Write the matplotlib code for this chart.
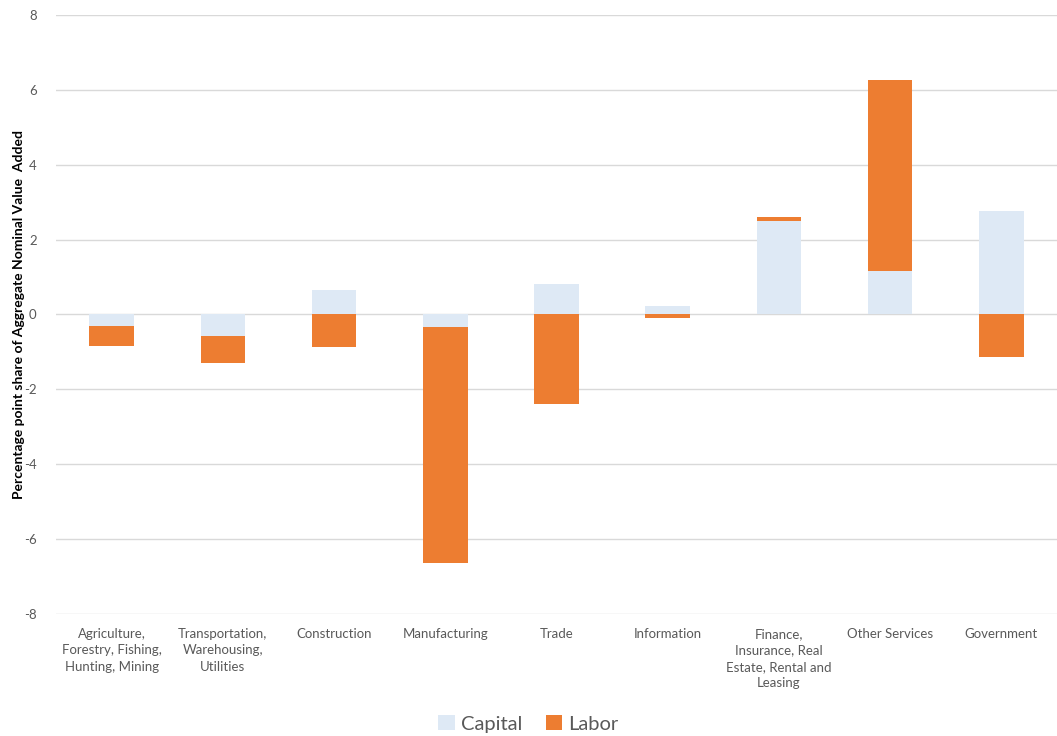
import numpy as np
import matplotlib.pyplot as plt

industries = [
    "Agriculture,\nForestry, Fishing,\nHunting, Mining",
    "Transportation,\nWarehousing,\nUtilities",
    "Construction",
    "Manufacturing",
    "Trade",
    "Information",
    "Finance,\nInsurance, Real\nEstate, Rental and\nLeasing",
    "Other Services",
    "Government",
]
capital = [-0.30, -0.57, 0.65, -0.33, 0.80, 0.23, 2.50, 1.16, 2.77]
labor = [-0.55, -0.73, -0.88, -6.30, -2.39, -0.10, 0.10, 5.10, -1.14]

cap_color = "#DEE9F5"
lab_color = "#ED7D31"
text_grey = "#595959"

plt.rcParams["font.family"] = ["Lato", "DejaVu Sans"]
plt.rcParams["axes.unicode_minus"] = False

fig = plt.figure(figsize=(10.57, 7.36), dpi=100)
ax = fig.add_axes([0.053, 0.166, 0.947, 0.8136])

x = np.arange(len(industries))
cap = np.array(capital)
lab = np.array(labor)

# positive parts stack upward, negative parts stack downward
lab_base = np.where(lab >= 0, np.maximum(cap, 0), np.minimum(cap, 0))

w = 0.4
ax.bar(x, cap, width=w, color=cap_color, label="Capital", zorder=3)
ax.bar(x, lab, width=w, bottom=lab_base, color=lab_color, label="Labor", zorder=3)

ax.set_ylim(-8, 8)
ax.set_yticks(range(-8, 9, 2))
ax.set_xlim(-0.5, len(industries) - 0.5)
ax.set_xticks(x)
ax.set_xticklabels(industries, fontsize=9.5, color=text_grey, linespacing=1.45, va="top")
ax.tick_params(axis="both", length=0, labelsize=9.5, colors=text_grey)
ax.tick_params(axis="x", pad=10)
ax.tick_params(axis="y", pad=14)
ax.yaxis.grid(True, color="#D9D9D9", linewidth=1, zorder=0)
ax.set_axisbelow(True)
for s in ax.spines.values():
    s.set_visible(False)

ax.set_ylabel("Percentage point share of Aggregate Nominal Value  Added",
              fontsize=10, fontweight="bold", color="black")
ax.yaxis.set_label_coords(-0.031, 0.5)

fig.legend(loc="lower center", bbox_to_anchor=(0.5, -0.02), ncol=2, frameon=False,
           fontsize=14.5, labelcolor=text_grey, handlelength=0.8, handleheight=0.8,
           handletextpad=0.3, columnspacing=1.2)

fig.savefig("out.png", dpi=100)
